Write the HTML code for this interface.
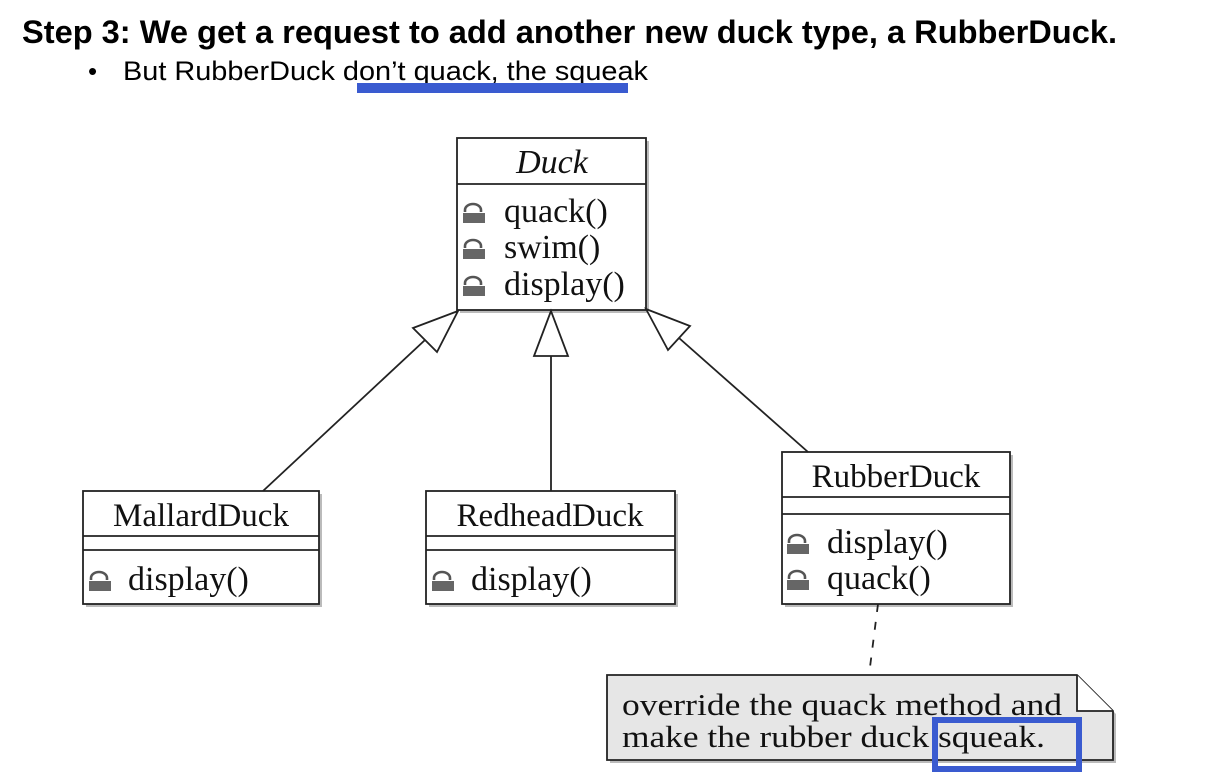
<!DOCTYPE html>
<html><head><meta charset="utf-8"><style>
html,body{margin:0;padding:0;background:#fff;}
svg{display:block;}
.s{font-family:"Liberation Serif",serif;fill:#111;}
</style></head><body>
<svg width="1205" height="782" viewBox="0 0 1205 782" xmlns="http://www.w3.org/2000/svg">
<defs>
<g id="lk"><path d="M3,9 V7 A8,6 0 0 1 19,7 V9" fill="none" stroke="#555" stroke-width="2.6"/><rect x="1" y="10" width="22" height="10" fill="#666"/></g>
</defs>
<text x="22" y="43" font-family="Liberation Sans,sans-serif" font-weight="bold" font-size="32" textLength="1095" lengthAdjust="spacingAndGlyphs">Step 3: We get a request to add another new duck type, a RubberDuck.</text>
<text x="88" y="80" font-family="Liberation Sans,sans-serif" font-size="26">•</text>
<text x="123" y="80" font-family="Liberation Sans,sans-serif" font-size="27" textLength="525" lengthAdjust="spacingAndGlyphs">But RubberDuck don’t quack, the squeak</text>
<rect x="357" y="83" width="271" height="10" fill="#3a5bd0"/>

<!-- shadows -->
<g fill="#bbb">
<rect x="460" y="141" width="189" height="172"/>
<rect x="86" y="494" width="236" height="113"/>
<rect x="429" y="494" width="249" height="113"/>
<rect x="785" y="455" width="228" height="152"/>
<path d="M610,678 H1080 L1116,714 V763 H610 Z"/>
</g>
<g fill="#fff" stroke="#222" stroke-width="1.8">
<rect x="457" y="138" width="189" height="172"/>
<rect x="83" y="491" width="236" height="113"/>
<rect x="426" y="491" width="249" height="113"/>
<rect x="782" y="452" width="228" height="152"/>
</g>
<g stroke="#222" stroke-width="1.8">
<line x1="457" y1="184" x2="646" y2="184"/>
<line x1="83" y1="536" x2="319" y2="536"/><line x1="83" y1="550" x2="319" y2="550"/>
<line x1="426" y1="536" x2="675" y2="536"/><line x1="426" y1="550" x2="675" y2="550"/>
<line x1="782" y1="497" x2="1010" y2="497"/><line x1="782" y1="514" x2="1010" y2="514"/>
</g>
<text class="s" x="552" y="173" font-size="34" font-style="italic" text-anchor="middle">Duck</text>
<use href="#lk" x="462" y="203"/><text class="s" x="504" y="222" font-size="34">quack()</text>
<use href="#lk" x="462" y="239"/><text class="s" x="504" y="258" font-size="34">swim()</text>
<use href="#lk" x="462" y="276"/><text class="s" x="504" y="295" font-size="34">display()</text>

<text class="s" x="201" y="526" font-size="33" text-anchor="middle">MallardDuck</text>
<use href="#lk" x="88" y="571"/><text class="s" x="128" y="590" font-size="34">display()</text>
<text class="s" x="550" y="526" font-size="33" text-anchor="middle">RedheadDuck</text>
<use href="#lk" x="431" y="571"/><text class="s" x="471" y="590" font-size="34">display()</text>
<text class="s" x="896" y="487" font-size="33" text-anchor="middle">RubberDuck</text>
<use href="#lk" x="786" y="534"/><text class="s" x="827" y="553" font-size="34">display()</text>
<use href="#lk" x="786" y="570"/><text class="s" x="827" y="589" font-size="34">quack()</text>

<g stroke="#222" stroke-width="1.8" fill="#fff">
<line x1="263" y1="491" x2="425" y2="340"/>
<polygon points="458,311 413,328 437,352"/>
<line x1="551" y1="491" x2="551" y2="356"/>
<polygon points="551,311 534,356 568,356"/>
<line x1="808" y1="452" x2="679" y2="338"/>
<polygon points="646,309 690,326 668,350"/>
<line x1="878" y1="604" x2="869" y2="675" stroke-dasharray="8,10" fill="none"/>
</g>
<path d="M607,675 H1077 L1113,711 V760 H607 Z" fill="#e6e6e6" stroke="#222" stroke-width="1.8"/>
<path d="M1077,675 V711 H1113" fill="#fff" stroke="#222" stroke-width="1.8"/>
<text class="s" x="622" y="715" font-size="31" textLength="440" lengthAdjust="spacingAndGlyphs">override the quack method and</text>
<text class="s" x="622" y="747" font-size="31" textLength="423" lengthAdjust="spacingAndGlyphs">make the rubber duck squeak.</text>
<rect x="935" y="720" width="144" height="49" fill="none" stroke="#3a5bd0" stroke-width="6"/>
</svg>
</body></html>
